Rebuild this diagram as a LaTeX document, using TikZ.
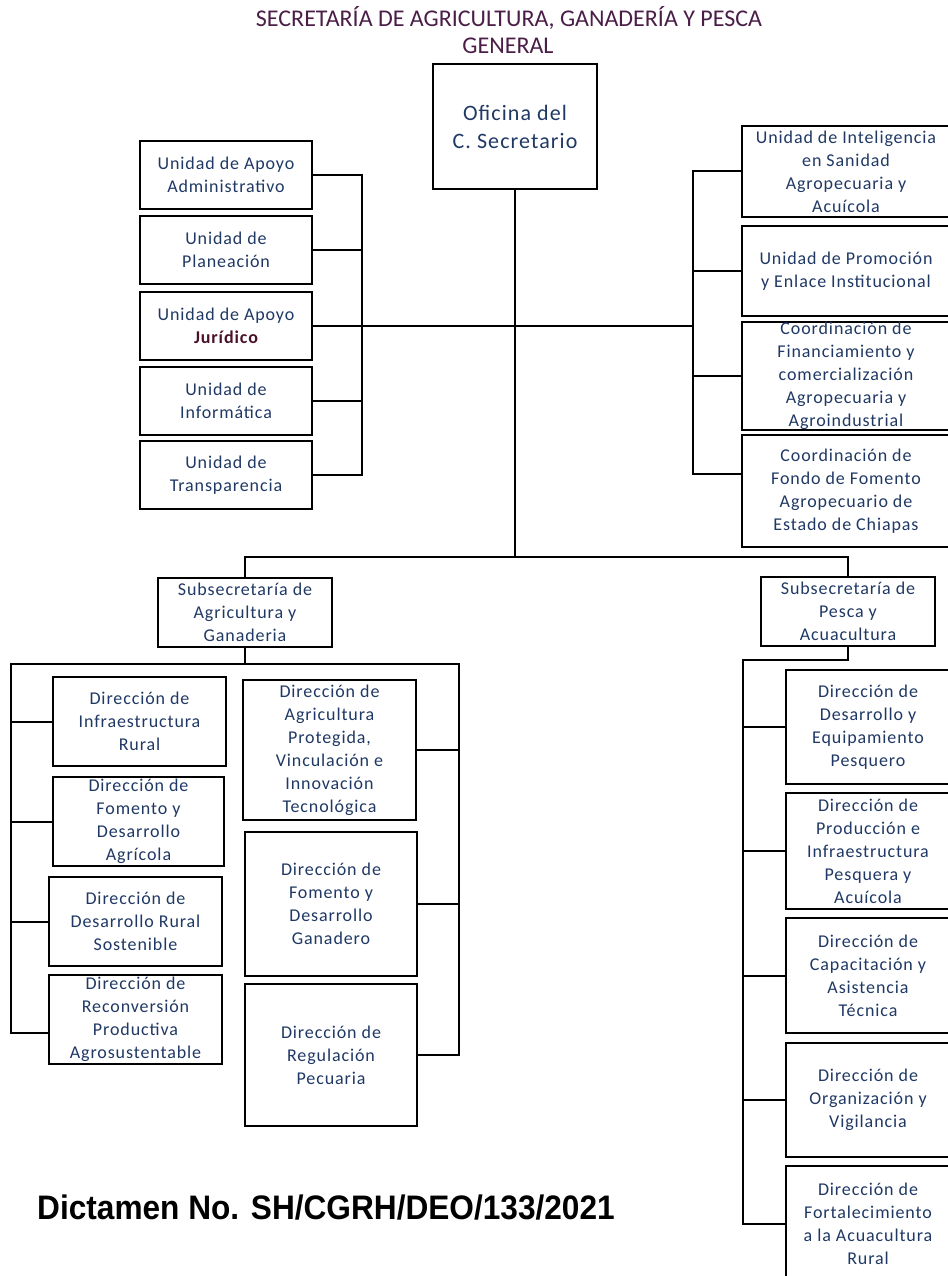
\documentclass[tikz,border=0pt]{standalone}
\usepackage{fontspec}
\setmainfont{Carlito}
\newfontfamily\boxfont{Carlito}[LetterSpace=5]
\newfontfamily\dictfont{Liberation Sans}
\definecolor{boxtext}{HTML}{1F3864}
\definecolor{titlepurple}{HTML}{4B1E48}
\definecolor{jurmaroon}{HTML}{4A1028}
\tikzset{
	orgbox/.style={draw, line width=2.4pt, align=center, inner sep=0pt, text=boxtext, font=\boxfont\fontsize{18}{23}\selectfont},
	orgline/.style={line width=2pt},
	orgtitle/.style={inner sep=0pt, text=titlepurple, font=\fontsize{24}{28}\selectfont},
}
\begin{document}
\begin{tikzpicture}[x=1pt,y=-1pt]
				\useasboundingbox (0,0) rectangle (947,1276);
				\node[orgtitle] (titulo) at (509,18) {SECRETARÍA DE AGRICULTURA, GANADERÍA Y PESCA};
				\node[orgtitle] (general) at (508,46) {GENERAL};
				\node[orgbox, minimum width=164pt, minimum height=125pt, font=\boxfont\fontsize{22}{28}\selectfont] (oficina) at (515,126.5) {Oficina del\\C. Secretario};
				\node[orgbox, minimum width=172pt, minimum height=68pt] (apoyoadm) at (226,175) {Unidad de Apoyo\\Administrativo};
				\node[orgbox, minimum width=172pt, minimum height=68pt] (planeacion) at (226,250) {Unidad de\\Planeación};
				\node[orgbox, minimum width=172pt, minimum height=68pt] (juridico) at (226,326) {Unidad de Apoyo\\\textcolor{jurmaroon}{\bfseries Jurídico}};
				\node[orgbox, minimum width=172pt, minimum height=68pt] (informatica) at (226,401) {Unidad de\\Informática};
				\node[orgbox, minimum width=172pt, minimum height=68pt] (transparencia) at (226,475) {Unidad de\\Transparencia};
				\node[orgbox, minimum width=208pt, minimum height=91pt] (inteligencia) at (846,171.5) {Unidad de Inteligencia\\en Sanidad\\Agropecuaria y\\Acuícola};
				\node[orgbox, minimum width=208pt, minimum height=90pt] (promocion) at (846,271) {Unidad de Promoción\\y Enlace Institucional};
				\node[orgbox, minimum width=208pt, minimum height=108pt] (financiamiento) at (846,376) {Coordinación de\\Financiamiento y\\comercialización\\Agropecuaria y\\Agroindustrial};
				\node[orgbox, minimum width=208pt, minimum height=112pt] (fondo) at (846,491) {Coordinación de\\Fondo de Fomento\\Agropecuario de\\Estado de Chiapas};
				\node[orgbox, minimum width=174pt, minimum height=69pt] (subagri) at (245,612.5) {Subsecretaría de\\Agricultura y\\Ganaderia};
				\node[orgbox, minimum width=174pt, minimum height=69pt] (subpesca) at (848,611.5) {Subsecretaría de\\Pesca y\\Acuacultura};
				\node[orgbox, minimum width=173pt, minimum height=89pt] (infraestructura) at (139.5,721.5) {Dirección de\\Infraestructura\\Rural};
				\node[orgbox, minimum width=171pt, minimum height=89pt] (fomentoagri) at (138.5,821.5) {Dirección de\\Fomento y\\Desarrollo\\Agrícola};
				\node[orgbox, minimum width=173pt, minimum height=89pt] (desarrollorural) at (135.5,921.5) {Dirección de\\Desarrollo Rural\\Sostenible};
				\node[orgbox, minimum width=173pt, minimum height=89pt] (reconversion) at (135.5,1019.5) {Dirección de\\Reconversión\\Productiva\\Agrosustentable};
				\node[orgbox, minimum width=173pt, minimum height=140pt] (protegida) at (329.5,750) {Dirección de\\Agricultura\\Protegida,\\Vinculación e\\Innovación\\Tecnológica};
				\node[orgbox, minimum width=172pt, minimum height=144pt] (fomentogan) at (331,904) {Dirección de\\Fomento y\\Desarrollo\\Ganadero};
				\node[orgbox, minimum width=172pt, minimum height=142pt] (regulacion) at (331,1055) {Dirección de\\Regulación\\Pecuaria};
				\node[orgbox, minimum width=164pt, minimum height=114pt] (equipamiento) at (868,727) {Dirección de\\Desarrollo y\\Equipamiento\\Pesquero};
				\node[orgbox, minimum width=164pt, minimum height=116pt] (produccion) at (868,851) {Dirección de\\Producción e\\Infraestructura\\Pesquera y\\Acuícola};
				\node[orgbox, minimum width=164pt, minimum height=115pt] (capacitacion) at (868,975.5) {Dirección de\\Capacitación y\\Asistencia\\Técnica};
				\node[orgbox, minimum width=164pt, minimum height=114pt] (organizacion) at (868,1100) {Dirección de\\Organización y\\Vigilancia};
				\node[orgbox, minimum width=164pt, minimum height=116pt] (fortalecimiento) at (868,1224) {Dirección de\\Fortalecimiento\\a la Acuacultura\\Rural};
				\node[anchor=west, inner sep=0pt, font=\dictfont\bfseries\fontsize{34}{38}\selectfont] (dictamen) at (37,1208) {\scalebox{0.93}[1]{Dictamen No. SH/CGRH/DEO/133/2021}};
				\coordinate (lbus) at (362,0);
				\coordinate (rbus) at (693,0);
				\coordinate (split) at (515,557);
				\coordinate (agriL) at (11,664);
				\coordinate (agriR) at (459,664);
				\coordinate (pescaL) at (743,660);
				\coordinate (fondoin) at ([yshift=17pt]fondo.west);
				\coordinate (reconvin) at ([yshift=-13.5pt]reconversion.west);
				\draw[orgline] (apoyoadm.east) -- (apoyoadm.east -| lbus) -- (transparencia.east -| lbus) -- (transparencia.east);
				\draw[orgline] (planeacion.east) -- (planeacion.east -| lbus);
				\draw[orgline] (informatica.east) -- (informatica.east -| lbus);
				\draw[orgline] (juridico.east) -- (juridico.east -| rbus);
				\draw[orgline] (inteligencia.west) -- (inteligencia.west -| rbus) -- (fondoin -| rbus) -- (fondoin);
				\draw[orgline] (promocion.west) -- (promocion.west -| rbus);
				\draw[orgline] (financiamiento.west) -- (financiamiento.west -| rbus);
				\draw[orgline] (oficina.south) -- (split);
				\draw[orgline] (subagri.north) -- (subagri.north |- split) -- (subpesca.north |- split) -- (subpesca.north);
				\draw[orgline] (subagri.south) -- (subagri.south |- agriL);
				\draw[orgline] (reconvin) -- (reconvin -| agriL) -- (agriL) -- (agriR) -- (agriR |- regulacion.east) -- (regulacion.east);
				\draw[orgline] (infraestructura.west) -- (infraestructura.west -| agriL);
				\draw[orgline] (fomentoagri.west) -- (fomentoagri.west -| agriL);
				\draw[orgline] (desarrollorural.west) -- (desarrollorural.west -| agriL);
				\draw[orgline] (protegida.east) -- (protegida.east -| agriR);
				\draw[orgline] (fomentogan.east) -- (fomentogan.east -| agriR);
				\draw[orgline] (subpesca.south) |- (pescaL) -- (pescaL |- fortalecimiento.west) -- (fortalecimiento.west);
				\draw[orgline] (equipamiento.west) -- (equipamiento.west -| pescaL);
				\draw[orgline] (produccion.west) -- (produccion.west -| pescaL);
				\draw[orgline] (capacitacion.west) -- (capacitacion.west -| pescaL);
				\draw[orgline] (organizacion.west) -- (organizacion.west -| pescaL);
\end{tikzpicture}
\end{document}
